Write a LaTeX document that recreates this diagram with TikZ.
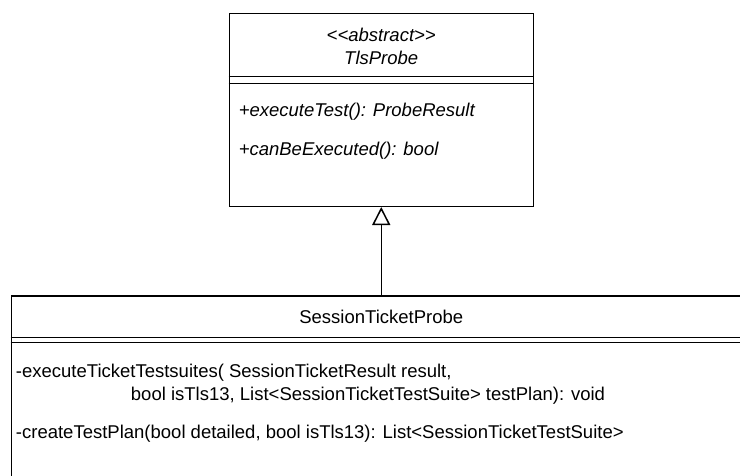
\documentclass[tikz,border=0pt]{standalone}
\usepackage{fontspec}
\setmainfont{Liberation Sans}[Ligatures=TeXOff]
\usetikzlibrary{arrows.meta, positioning, calc}

\begin{document}
\begin{tikzpicture}[x=1pt, y=-1pt, line width=1.5pt,
  font=\fontsize{18.5}{23}\selectfont,
  classbox/.style={draw, rectangle, inner sep=0pt, anchor=north west},
  member/.style={anchor=west, inner sep=0pt, align=left},
  abstr/.style={font=\fontsize{18.5}{23}\selectfont\itshape},
  inherit/.style={-{Triangle[open, length=18pt, width=18pt]}}]
\useasboundingbox (0,0) rectangle (740,475);
\clip (0,0) rectangle (740,475);

% Abstract class
\node[classbox, minimum width=304pt, minimum height=193pt] (tls) at (228.5,12.5) {};
\draw ($(tls.north west)+(0,64.2)$) -- ($(tls.north east)+(0,64.2)$);
\draw ($(tls.north west)+(0,70.8)$) -- ($(tls.north east)+(0,70.8)$);
\node[align=center, abstr] (tlsname) at ($(tls.north)+(0,33.5)$)
  {<<abstract>>\\TlsProbe};
\node[member, abstr] (exectest) at ($(tls.north west)+(9.5,99.5)$)
  {+executeTest(): ProbeResult};
\node[member, abstr] (canexec) at ($(tls.north west)+(9.5,138.5)$)
  {+canBeExecuted(): bool};

% Concrete class
\node[classbox, minimum width=739.6pt, minimum height=200pt] (stp) at (10.7,295) {};
\draw ($(stp.north west)+(0,42.3)$) -- ($(stp.north east)+(0,42.3)$);
\draw ($(stp.north west)+(0,47.7)$) -- ($(stp.north east)+(0,47.7)$);
\node (stpname) at ($(stp.north)+(0,22)$) {SessionTicketProbe};
\node[member] (execsuites) at ($(stp.north west)+(4.5,89)$)
  {-executeTicketTestsuites( SessionTicketResult result,\\
   \hspace*{115pt}bool isTls13, List<SessionTicketTestSuite> testPlan): void};
\node[member] (createplan) at ($(stp.north west)+(4.5,138.5)$)
  {-createTestPlan(bool detailed, bool isTls13): List<SessionTicketTestSuite>};

% Generalisation
\draw[inherit] (stp.north) -- (tls.south);
\end{tikzpicture}
\end{document}
